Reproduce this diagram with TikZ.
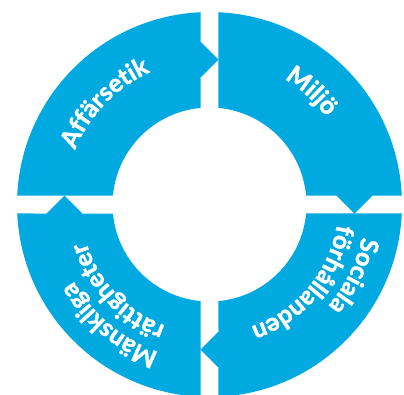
\documentclass[tikz,border=0pt]{standalone}
\usepackage{fontspec}
\setmainfont{Lato}[BoldFeatures={FakeBold=1.8}]
\usetikzlibrary{decorations.text}
\definecolor{ringblue}{HTML}{00A9E0}
\newcommand\segfont{\fontsize{25}{25}\selectfont\bfseries}
\def\Rout{192.5}
\def\Rin{97}
\def\gap{9}
\def\ac{145}
\def\aw{18}
\newcommand\ringseg[1]{%
  \fill[seg, rotate=#1] ({90-asin(\gap/\Rout)}:\Rout)
    arc[start angle={90-asin(\gap/\Rout)}, end angle={asin(\gap/\Rout)}, radius=\Rout]
    -- ({\ac+\aw},\gap) -- (\ac,-\gap) -- ({\ac-\aw},\gap)
    -- ({asin(\gap/\Rin)}:\Rin)
    arc[start angle={asin(\gap/\Rin)}, end angle={90-asin(\gap/\Rin)}, radius=\Rin]
    -- cycle;}
\begin{document}
\begin{tikzpicture}[x=1pt,y=1pt,
  seg/.style={fill=ringblue},
  lbl/.style={decorate, decoration={text along path, text color=white, #1}}]
\useasboundingbox (-209.5,-189.5) rectangle (194.5,204.5);
\clip (-209.5,-189.5) rectangle (194.5,204.5);
% four quarter segments, each with an arrow tip at its clockwise end
\ringseg{0}
\ringseg{-90}
\ringseg{-180}
\ringseg{90}
% labels
\path[lbl={text align=center, text={|\segfont|Affärsetik}}]
  (181:145) arc[start angle=181, end angle=91, radius=145];
\path[lbl={text align=center, text={|\segfont|Miljö}}]
  (93:146) arc[start angle=93, end angle=3, radius=146];
\path[lbl={text={|\segfont|Sociala}}]
  (-12:156) arc[start angle=-12, end angle=-100, radius=156];
\path[lbl={text={|\segfont|förhållanden}}]
  (-9:129) arc[start angle=-9, end angle=-115, radius=129];
\path[lbl={text={|\segfont|Mänskliga}}]
  (251:156) arc[start angle=251, end angle=160, radius=156];
\path[lbl={text={|\segfont|rättigheter}}]
  (250:129) arc[start angle=250, end angle=145, radius=129];
\end{tikzpicture}
\end{document}
